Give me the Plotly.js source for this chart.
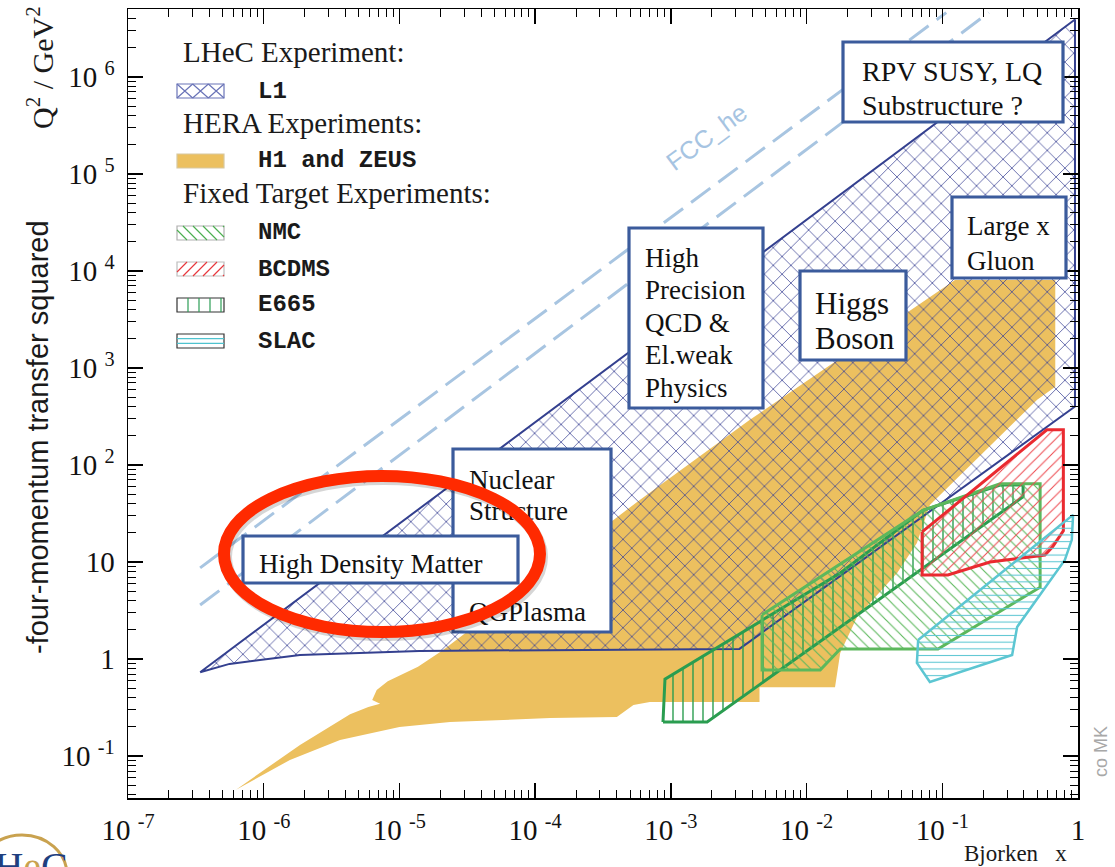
<!DOCTYPE html>
<html>
<head>
<meta charset="utf-8">
<script src="https://cdn.plot.ly/plotly-3.0.1.min.js"></script>
<style>
  html, body { margin: 0; padding: 0; background: #fff; }
  #chart { width: 1115px; height: 867px; }
</style>
</head>
<body>
<div id="chart"></div>
<script>
// Kinematic plane of deep inelastic scattering: Bjorken x versus Q^2 (GeV^2)

// LHeC (L1) reach
const l1X  = [3.4e-7, 0.95, 0.95, 3.2e-3, 1.4e-5, 1.85e-6, 5.6e-7, 3.4e-7];
const l1Q2 = [0.73, 3.9e6, 400, 1.27, 1.21, 1.1, 0.89, 0.73];

// HERA (H1 and ZEUS) measured region
const heraX  = [6.25e-7, 1.85e-6, 4.33e-6, 5.9e-6, 7.2e-6, 6.3e-6, 6.8e-6, 8.2e-6, 1.37e-5, 2.1e-5,
                5.9e-4, 3.8e-3, 0.124, 0.68, 0.68, 0.5, 0.081, 0.065, 0.0465, 0.0235, 0.0177, 0.0162,
                4.5e-3, 4.5e-3, 7.0e-4, 5.3e-4, 4.0e-4, 1.29e-4, 2.36e-5, 1.0e-5, 3.65e-6, 1.56e-6, 6.25e-7];
const heraQ2 = [0.045, 0.13, 0.27, 0.32, 0.345, 0.378, 0.48, 0.59, 0.83, 1.24,
                43.6, 290, 8070, 8070, 640, 470, 38.7, 15.7, 7.7, 2.7, 1.15, 0.51,
                0.51, 0.36, 0.36, 0.336, 0.252, 0.246, 0.224, 0.199, 0.146, 0.091, 0.045];

// Fixed target experiments
const e665X  = [8.75e-4, 9.05e-4, 0.0177, 0.072, 0.267, 0.394, 0.394, 1.85e-3, 8.75e-4];
const e665Q2 = [0.224, 0.62, 7.7, 34, 62, 62, 47, 0.224, 0.224];

const nmcX  = [4.7e-3, 0.072, 0.267, 0.526, 0.526, 0.093, 0.0177, 0.0126, 4.7e-3, 4.7e-3];
const nmcQ2 = [2.85, 34, 64, 64, 5.5, 1.27, 1.27, 0.77, 0.77, 2.85];

const bcdmsX  = [0.071, 0.59, 0.78, 0.78, 0.65, 0.57, 0.225, 0.11, 0.071, 0.071];
const bcdmsQ2 = [20.4, 230, 230, 21, 14.3, 11.8, 10, 7.35, 7.35, 20.4];

const slacX  = [0.0664, 0.92, 0.90, 0.80, 0.356, 0.327, 0.081, 0.065, 0.0664];
const slacQ2 = [1.57, 30.6, 16.9, 10.5, 2.14, 1.1, 0.58, 0.91, 1.57];

// FCC-he kinematic limit lines
const fccUpperX  = [3.4e-7, 0.107];
const fccUpperQ2 = [8.7, 4.6e6];
const fccLowerX  = [3.4e-7, 0.22];
const fccLowerQ2 = [3.6, 4.6e6];

// Axis ticks
const xTickVals = [1e-7, 1e-6, 1e-5, 1e-4, 1e-3, 1e-2, 1e-1, 1];
const xTickText = ['10 <sup>-7</sup>', '10 <sup>-6</sup>', '10 <sup>-5</sup>', '10 <sup>-4</sup>',
                   '10 <sup>-3</sup>', '10 <sup>-2</sup>', '10 <sup>-1</sup>', '1'];
const yTickVals = [1e-1, 1, 10, 1e2, 1e3, 1e4, 1e5, 1e6];
const yTickText = ['10 <sup>-1</sup>', '1', '10', '10 <sup>2</sup>', '10 <sup>3</sup>',
                   '10 <sup>4</sup>', '10 <sup>5</sup>', '10 <sup>6</sup>'];

// Legend and physics-topic texts
const legendHeaders = ['LHeC Experiment:', 'HERA Experiments:', 'Fixed Target Experiments:'];
const legendLabels  = ['L1', 'H1 and ZEUS', 'NMC', 'BCDMS', 'E665', 'SLAC'];
const rpvText     = ['RPV SUSY, LQ', 'Substructure ?'];
const precText    = ['High', 'Precision', 'QCD &amp;', 'El.weak', 'Physics'];
const higgsText   = ['Higgs', 'Boson'];
const gluonText   = ['Large x', 'Gluon'];
const nuclearText = ['Nuclear', 'Structure', 'QGPlasma'];
const densityText = ['High Density Matter'];

// ---------------------------------------------------------------
const SERIF = 'Liberation Serif, Times New Roman, serif';
const SANS  = 'Liberation Sans, Arial, sans-serif';
const MONO  = 'Liberation Mono, Courier New, monospace';

// plot frame in page pixels, used for paper-referenced decorations
const PX0 = 128, PX1 = 1078, PY0 = 9, PY1 = 798;
const px = v => (v - PX0) / (PX1 - PX0);
const py = v => (PY1 - v) / (PY1 - PY0);

const ORANGE = '#ecc05f';
const MESH = '#3d4496';
const BOXLINE = '#3b5b9c';

function region(x, y, lineColor, lineWidth, pattern) {
  return {
    type: 'scatter', x: x, y: y, mode: 'lines', fill: 'toself',
    fillcolor: 'rgba(0,0,0,0)',
    fillpattern: Object.assign({bgcolor: 'rgba(0,0,0,0)'}, pattern),
    line: {color: lineColor, width: lineWidth},
    hoverinfo: 'skip', showlegend: false
  };
}

const traces = [
  {type: 'scatter', x: heraX, y: heraQ2, mode: 'none', fill: 'toself', fillcolor: ORANGE,
   hoverinfo: 'skip', showlegend: false},
  region(l1X, l1Q2, '#34408f', 2, {shape: 'x', fgcolor: MESH, size: 12.5, solidity: 0.13, fgopacity: 0.9}),
  region(e665X, e665Q2, '#2a9d50', 3, {shape: '|', fgcolor: '#2a9d50', size: 10, solidity: 0.14}),
  region(nmcX, nmcQ2, '#5cb85c', 3, {shape: '\\', fgcolor: '#5cb85c', size: 8, solidity: 0.14}),
  region(bcdmsX, bcdmsQ2, '#ea2a30', 3, {shape: '/', fgcolor: '#ee4a50', size: 8, solidity: 0.13}),
  region(slacX, slacQ2, '#5cc6d2', 2.5, {shape: '-', fgcolor: '#5cc6d2', size: 6.7, solidity: 0.16}),
  {type: 'scatter', x: fccUpperX, y: fccUpperQ2, mode: 'lines', hoverinfo: 'skip', showlegend: false,
   line: {color: '#a8c5e1', width: 3, dash: '24px,10px'}},
  {type: 'scatter', x: fccLowerX, y: fccLowerQ2, mode: 'lines', hoverinfo: 'skip', showlegend: false,
   line: {color: '#a8c5e1', width: 3, dash: '24px,10px'}}
];

// minor ticks 2..9 in every decade
function minorTicks(lo, hi) {
  const out = [];
  for (let e = lo; e < hi; e++) for (let m = 2; m <= 9; m++) out.push(m * Math.pow(10, e));
  return out;
}

function axisStyle(vals, text, minorVals) {
  return {
    type: 'log', tickmode: 'array', tickvals: vals, ticktext: text, tickangle: 0,
    ticks: 'inside', ticklen: 15, tickwidth: 1.3, tickcolor: '#000',
    showline: true, linecolor: '#000', linewidth: 1.5, mirror: 'ticks',
    showgrid: false, zeroline: false,
    tickfont: {family: SERIF, size: 29, color: '#111'},
    minor: {tickmode: 'array', tickvals: minorVals, ticks: 'inside', ticklen: 8,
            tickwidth: 1, tickcolor: '#000', showgrid: false}
  };
}

const xaxis = axisStyle(xTickVals, xTickText, minorTicks(-7, 0));
xaxis.range = [-7, 0];
xaxis.ticklabelstandoff = 6;
const yaxis = axisStyle(yTickVals, yTickText, minorTicks(-2, 7));
yaxis.range = [-1.433, 6.70];
yaxis.ticklabelstandoff = 6;

// ---------- legend (drawn manually with header rows) ----------
function clipSeg(x0, y0, x1, y1, r) {
  let t0 = 0, t1 = 1;
  const dx = x1 - x0, dy = y1 - y0;
  const p = [-dx, dx, -dy, dy], q = [x0 - r.x0, r.x1 - x0, y0 - r.y0, r.y1 - y0];
  for (let i = 0; i < 4; i++) {
    if (p[i] === 0) { if (q[i] < 0) return null; }
    else {
      const t = q[i] / p[i];
      if (p[i] < 0) { if (t > t1) return null; if (t > t0) t0 = t; }
      else { if (t < t0) return null; if (t < t1) t1 = t; }
    }
  }
  return [x0 + t0 * dx, y0 + t0 * dy, x0 + t1 * dx, y0 + t1 * dy];
}
function hatchPath(r, kind, step) {
  const segs = [];
  const h = r.y1 - r.y0;
  if (kind === '|') for (let x = r.x0 + step; x < r.x1 - 1; x += step) segs.push([x, r.y0, x, r.y1]);
  if (kind === '-') for (let y = r.y0 + step; y < r.y1 - 1; y += step) segs.push([r.x0, y, r.x1, y]);
  if (kind === '/') for (let x = r.x0 - h; x < r.x1; x += step) { const s = clipSeg(x, r.y1, x + h, r.y0, r); if (s) segs.push(s); }
  if (kind === '\\') for (let x = r.x0 - h; x < r.x1; x += step) { const s = clipSeg(x, r.y0, x + h, r.y1, r); if (s) segs.push(s); }
  if (kind === 'X') {
    const w = (r.x1 - r.x0) / 3;
    for (let i = 0; i < 3; i++) {
      const a = r.x0 + i * w;
      segs.push([a, r.y0, a + w, r.y1]); segs.push([a, r.y1, a + w, r.y0]);
    }
  }
  return segs.map(s => 'M' + px(s[0]) + ',' + py(s[1]) + 'L' + px(s[2]) + ',' + py(s[3])).join('');
}

const shapes = [];
const annotations = [];

const headerY = [52, 123, 193];
legendHeaders.forEach((t, i) => annotations.push({
  xref: 'paper', yref: 'paper', x: px(181), y: py(headerY[i]), xanchor: 'left', yanchor: 'middle',
  text: t, showarrow: false, font: {family: SERIF, size: 29, color: '#1a1a1a'}
}));

const rowY = [91, 161, 233, 269, 305, 341];
const swatchStyle = [
  {border: '#6a74b8', kind: 'X', color: '#6a74b8', step: 0},
  {border: '#d8c8a0', fill: ORANGE},
  {border: '#b0b0b0', kind: '\\', color: '#4caf50', step: 10},
  {border: '#bdbdbd', kind: '/', color: '#e8383d', step: 10},
  {border: '#333333', kind: '|', color: '#2e9e56', step: 11},
  {border: '#333333', kind: '-', color: '#4fc3cf', step: 4.7}
];
legendLabels.forEach((t, i) => {
  const r = {x0: 177, x1: 224, y0: rowY[i] - 7, y1: rowY[i] + 7};
  const st = swatchStyle[i];
  shapes.push({type: 'rect', xref: 'paper', yref: 'paper', layer: 'above',
    x0: px(r.x0), x1: px(r.x1), y0: py(r.y1), y1: py(r.y0),
    fillcolor: st.fill || '#ffffff', line: {color: st.border, width: 1.2}});
  if (st.kind) shapes.push({type: 'path', xref: 'paper', yref: 'paper', layer: 'above',
    path: hatchPath(r, st.kind, st.step), line: {color: st.color, width: 1.2}});
  annotations.push({xref: 'paper', yref: 'paper', x: px(256), y: py(rowY[i]), xanchor: 'left', yanchor: 'middle',
    text: '<b>' + t + '</b>', showarrow: false, font: {family: MONO, size: 24, color: '#1a1a1a'}});
});

// ---------- physics topic boxes ----------
const boxFrames = [
  [843, 42, 1063, 122], [629, 228, 763, 408], [800, 271, 906, 360],
  [952, 197, 1066, 278], [453, 449, 611, 632], [243, 536, 518, 583]
];
boxFrames.forEach(b => shapes.push({
  type: 'rect', xref: 'paper', yref: 'paper', layer: 'above',
  x0: px(b[0]), x1: px(b[2]), y0: py(b[3]), y1: py(b[1]),
  fillcolor: '#ffffff', line: {color: BOXLINE, width: 3.2}
}));

const textBlocks = [
  {lines: rpvText, x: 859, y: [68, 102], size: 28},
  {lines: precText, x: 642, y: [255, 287, 320, 352, 385], size: 27},
  {lines: higgsText, x: 812, y: [300, 335], size: 31},
  {lines: gluonText, x: 964, y: [223, 258], size: 27},
  {lines: nuclearText, x: 466, y: [477, 508, 609], size: 27},
  {lines: densityText, x: 256, y: [561], size: 27}
];
textBlocks.forEach(tb => tb.lines.forEach((t, i) => shapes.push({
  type: 'rect', xref: 'paper', yref: 'paper', layer: 'above',
  x0: px(tb.x), x1: px(tb.x + 4), y0: py(tb.y[i] + 12), y1: py(tb.y[i] - 12),
  fillcolor: 'rgba(0,0,0,0)', line: {width: 0},
  label: {text: t, textposition: 'middle left', padding: 0,
          font: {family: SERIF, size: tb.size, color: '#111111'}}
})));

// highlight ring around the high density region
shapes.push({type: 'circle', xref: 'paper', yref: 'paper', layer: 'above',
  x0: px(226), x1: px(542), y0: py(635), y1: py(479),
  line: {color: 'rgba(0,0,0,0.16)', width: 12}});
shapes.push({type: 'circle', xref: 'paper', yref: 'paper', layer: 'above',
  x0: px(224), x1: px(540), y0: py(632), y1: py(476),
  line: {color: '#ff2a00', width: 12}});

// logo ring at the lower left corner
shapes.push({type: 'circle', xref: 'paper', yref: 'paper', layer: 'above',
  x0: px(-23), x1: px(67), y0: py(915), y1: py(835),
  line: {color: '#c9a24f', width: 3}});

// ---------- axis titles and other text ----------
annotations.push(
  {xref: 'paper', yref: 'paper', x: px(40), y: py(68), xanchor: 'center', yanchor: 'middle',
   text: 'Q<sup>2</sup> / GeV<sup>2</sup>', textangle: -90, showarrow: false,
   font: {family: SERIF, size: 30, color: '#1a1a1a'}},
  {xref: 'paper', yref: 'paper', x: px(38), y: py(437), xanchor: 'center', yanchor: 'middle',
   text: '-four-momentum transfer squared', textangle: -90, showarrow: false,
   font: {family: SANS, size: 29, color: '#1a1a1a'}},
  {xref: 'paper', yref: 'paper', x: px(1069), y: py(853), xanchor: 'right', yanchor: 'middle',
   text: 'Bjorken\u00a0\u00a0 x', showarrow: false,
   font: {family: SERIF, size: 23, color: '#1a1a1a'}},
  {xref: 'paper', yref: 'paper', x: px(1101), y: py(752), xanchor: 'center', yanchor: 'middle',
   text: 'co MK', textangle: -90, showarrow: false,
   font: {family: SANS, size: 18, color: '#a8a8a8'}},
  {xref: 'paper', yref: 'paper', x: px(706), y: py(137), xanchor: 'center', yanchor: 'middle',
   text: 'FCC_he', textangle: -36.6, showarrow: false,
   font: {family: SANS, size: 25, color: '#a6c4e2'}},
  {xref: 'paper', yref: 'paper', x: px(70), y: py(842), xanchor: 'right', yanchor: 'top',
   text: 'LH<span style="color:#c9a24f">e</span>C', showarrow: false,
   font: {family: SERIF, size: 40, color: '#1f3f7f'}}
);

const layout = {
  width: 1115, height: 867,
  margin: {l: 128, r: 37, t: 9, b: 69},
  paper_bgcolor: '#ffffff', plot_bgcolor: '#ffffff',
  showlegend: false,
  xaxis: xaxis, yaxis: yaxis,
  shapes: shapes, annotations: annotations
};

Plotly.newPlot('chart', traces, layout, {staticPlot: true, displayModeBar: false});
</script>
</body>
</html>
